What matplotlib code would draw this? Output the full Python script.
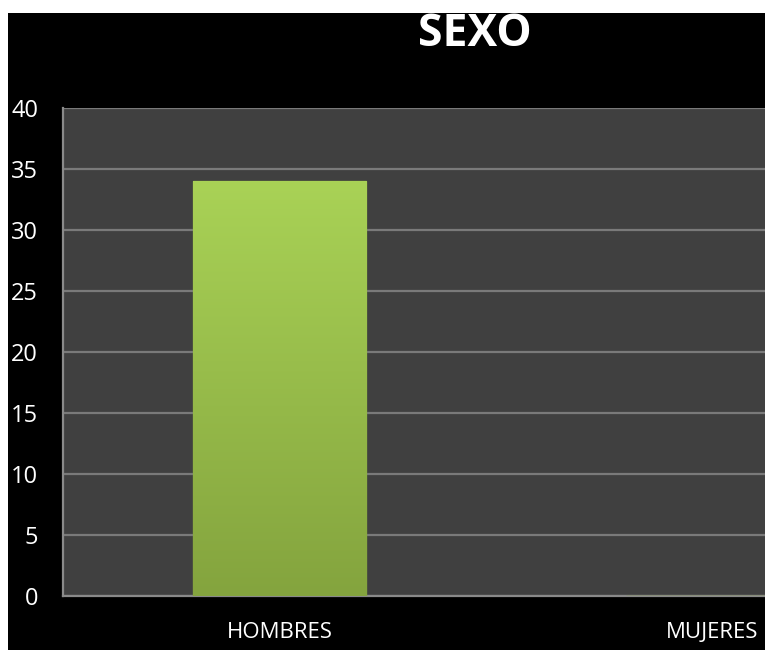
import matplotlib.pyplot as plt
from matplotlib.patches import Rectangle
from matplotlib.colors import LinearSegmentedColormap
import numpy as np

# datos del grafico
categorias = ["HOMBRES", "MUJERES"]
valores = [34, 0]
ticks_y = [0, 5, 10, 15, 20, 25, 30, 35, 40]

plt.rcParams['font.family'] = ['Open Sans', 'DejaVu Sans']

fig = plt.figure(figsize=(7.65, 6.5), dpi=100, facecolor='black')
# el area del grafico sigue mas alla del borde derecho (recortado)
ax = fig.add_axes([63/765, 1-596/650, 866/765, 488/650])
ax.set_facecolor('#404040')

barras = ax.bar(range(len(categorias)), valores, width=0.4,
                color='#9cc44d', edgecolor='#7e9c3a', linewidth=1, zorder=3)

# degradado verde dentro de la barra
verdes = LinearSegmentedColormap.from_list('verdes', ['#84a43e', '#a9d256'])
for b in barras:
    if b.get_height() <= 0:
        continue
    x0, y0 = b.get_x(), b.get_y()
    grad = np.linspace(0, 1, 256).reshape(-1, 1)
    im = ax.imshow(grad, cmap=verdes, aspect='auto', origin='lower',
                   extent=[x0, x0 + b.get_width(), y0, y0 + b.get_height()],
                   zorder=3.5)
    im.set_clip_path(b)

ax.set_xlim(-0.5, 1.5)
ax.set_ylim(0, 40)
ax.set_yticks(ticks_y)
ax.set_xticks(range(len(categorias)))
ax.set_xticklabels(categorias)
ax.yaxis.grid(True, color='#7a7a7a', linewidth=1.6, zorder=1)
ax.tick_params(axis='y', colors='white', labelsize=17, length=0, pad=18)
ax.tick_params(axis='x', colors='white', labelsize=16, length=0, pad=19)
for s in ['top', 'right']:
    ax.spines[s].set_visible(False)
for s in ['left', 'bottom']:
    ax.spines[s].set_color('#8a8a8a')
    ax.spines[s].set_linewidth(1.6)

fig.text(475/765, 1-34/650, "SEXO", color='white', fontsize=32,
         fontweight='bold', ha='center', va='center')

# franjas blancas en el borde de la captura
fig.add_artist(Rectangle((0, 1-13/650), 1, 13/650, transform=fig.transFigure,
                         facecolor='white', edgecolor='none'))
fig.add_artist(Rectangle((0, 0), 8/765, 1, transform=fig.transFigure,
                         facecolor='white', edgecolor='none'))

fig.savefig('out.png', dpi=100, facecolor='black')
